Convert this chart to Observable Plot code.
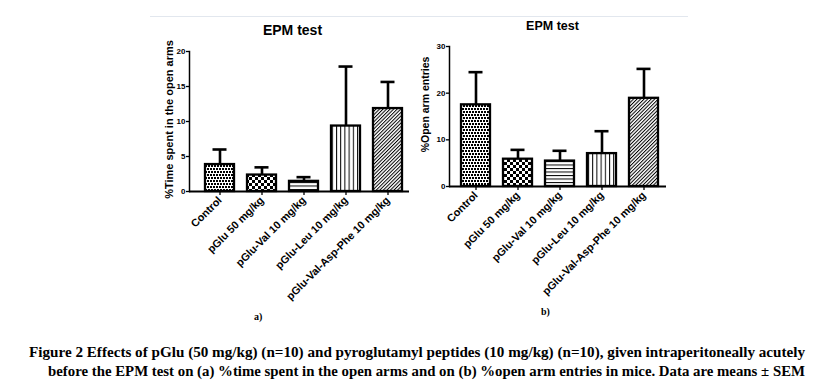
<!DOCTYPE html>
<html><head><meta charset="utf-8">
<script src="https://cdn.jsdelivr.net/npm/d3@7"></script>
<script src="https://cdn.jsdelivr.net/npm/@observablehq/plot@0.6"></script>
<style>
body{margin:0;background:#fff;}
#wrap{position:relative;width:827px;height:391px;overflow:hidden;background:#fff;}
.layer{position:absolute;left:0;top:0;}
#topline{position:absolute;left:150px;top:16px;width:538px;height:1px;background:#e2e7ee;}
.sub{position:absolute;font-family:"Liberation Serif","Times New Roman",serif;font-weight:bold;font-size:10px;color:#000;}
</style></head>
<body>
<svg width="0" height="0" style="position:absolute">
  <defs>
    <pattern id="p0" patternUnits="userSpaceOnUse" width="3" height="6">
      <rect width="3" height="6" fill="#fff"/>
      <rect x="0" y="0" width="2" height="2" fill="#000"/>
      <rect x="1" y="3" width="2" height="2" fill="#000"/>
    </pattern>
    <pattern id="p1" patternUnits="userSpaceOnUse" width="6" height="6">
      <rect width="6" height="6" fill="#fff"/><rect x="0" y="0" width="3" height="3" fill="#000"/><rect x="3" y="3" width="3" height="3" fill="#000"/>
    </pattern>
    <pattern id="p2" patternUnits="userSpaceOnUse" width="4" height="3.5">
      <rect width="4" height="3.5" fill="#fff"/><rect x="0" y="0" width="4" height="1" fill="#000"/>
    </pattern>
    <pattern id="p3" patternUnits="userSpaceOnUse" width="4.2" height="4">
      <rect width="4.2" height="4" fill="#fff"/><rect x="0" y="0" width="1" height="4" fill="#000"/>
    </pattern>
    <pattern id="p4" patternUnits="userSpaceOnUse" width="2.5" height="2.5" patternTransform="rotate(45)">
      <rect width="2.5" height="2.5" fill="#fff"/><rect x="0" y="0" width="1" height="2.5" fill="#000"/>
    </pattern>
  </defs>
</svg>
<div id="wrap">
  <div id="topline"></div>
  <div id="pa" class="layer"></div>
  <div id="pb" class="layer"></div>
  <div class="sub" style="left:254px;top:311px;">a)</div>
  <div class="sub" style="left:541px;top:306px;">b)</div>
  <svg class="layer" width="827" height="391" style="pointer-events:none">
    <g font-family="Liberation Serif, Times New Roman, serif" font-weight="bold" font-size="15" fill="#000">
      <text id="cap1" x="29" y="357" textLength="776" lengthAdjust="spacingAndGlyphs"></text>
      <text id="cap2" x="48" y="376" textLength="757" lengthAdjust="spacingAndGlyphs"></text>
    </g>
  </svg>
</div>
<script>
// ---- data ----
const groups = ["Control", "pGlu 50 mg/kg", "pGlu-Val 10 mg/kg", "pGlu-Leu 10 mg/kg", "pGlu-Val-Asp-Phe 10 mg/kg"];
const timeMean = [3.85, 2.35, 1.45, 9.35, 11.85];
const timeSem = [2.15, 1.1, 0.6, 8.5, 3.8];
const entriesMean = [17.5, 5.85, 5.45, 7.05, 18.9];
const entriesSem = [7.0, 2.0, 2.2, 4.8, 6.3];
const yTicksA = [0, 5, 10, 15, 20];
const yTicksB = [0, 10, 20, 30];
const titleA = "EPM test";
const titleB = "EPM test";
const yLabelA = "%Time spent in the open arms";
const yLabelB = "%Open arm entries";
const caption1 = "Figure 2 Effects of pGlu (50 mg/kg) (n=10) and pyroglutamyl peptides (10 mg/kg) (n=10), given intraperitoneally acutely";
const caption2 = "before the EPM test on (a) %time spent in the open arms and on (b) %open arm entries in mice. Data are means \u00b1 SEM";

const patterns = ["url(#p0)", "url(#p1)", "url(#p2)", "url(#p3)", "url(#p4)"];
const font = "Liberation Sans, Arial, sans-serif";

function panel(o) {
  const data = groups.map((g, i) => ({group: g, mean: o.mean[i], top: o.mean[i] + o.sem[i]}));
  return Plot.plot({
    width: 827, height: 391,
    marginLeft: o.ml, marginRight: o.mr, marginTop: o.mt, marginBottom: o.mb,
    style: {background: "transparent", fontFamily: font, overflow: "visible", color: "#000"},
    x: {domain: groups, paddingInner: 0.3, paddingOuter: o.po, align: o.align, label: null},
    y: {domain: o.domain, label: null},
    color: {domain: groups, range: patterns},
    marks: [
      Plot.ruleX(data, {x: "group", y1: "mean", y2: "top", stroke: "#000", strokeWidth: 2.6}),
      Plot.tickY(data, {x: "group", y: "top", stroke: "#000", strokeWidth: 2.6, insetLeft: 7.5, insetRight: 7.5}),
      Plot.barY(data, {x: "group", y: "mean", fill: "group", stroke: "#000", strokeWidth: 2.3}),
      Plot.ruleY([0], {stroke: "#000", strokeWidth: 2}),
      Plot.frame({anchor: "left", stroke: "#000", strokeWidth: 1.5}),
      Plot.axisY({ticks: o.yTicks, tickSize: 3, tickPadding: 1, strokeWidth: 1.3, fontWeight: "bold", fontSize: o.yTickFs, label: null}),
      Plot.axisX({tickSize: 4, tickPadding: 3, tickRotate: -45, strokeWidth: 1.3, fontWeight: "bold", fontSize: 10.8, label: null}),
      Plot.text([o.title], {frameAnchor: "top", lineAnchor: "middle", dx: o.tdx, dy: o.tdy, fontWeight: "bold", fontSize: o.tfs, fill: "#000"}),
      Plot.text([o.ylabel], {frameAnchor: "left", rotate: -90, lineAnchor: "middle", textAnchor: "middle", dx: o.ldx, dy: o.ldy, fontWeight: "bold", fontSize: o.lfs, fill: "#000"})
    ]
  });
}

document.getElementById("pa").appendChild(panel({
  mean: timeMean, sem: timeSem, domain: [0, 20], yTicks: yTicksA,
  ml: 189, mr: 418, mt: 51, mb: 200, po: 0.24, align: 0.7,
  title: titleA, tdx: -7, tdy: -21, tfs: 14,
  ylabel: yLabelA, ldx: -20, ldy: -2, lfs: 11, yTickFs: 8
}));
document.getElementById("pb").appendChild(panel({
  mean: entriesMean, sem: entriesSem, domain: [0, 30], yTicks: yTicksB,
  ml: 449, mr: 161, mt: 46, mb: 205, po: 0.215, align: 0.6,
  title: titleB, tdx: -5.5, tdy: -21, tfs: 12.5,
  ylabel: yLabelB, ldx: -24, ldy: -12, lfs: 10.5, yTickFs: 8
}));
document.getElementById("cap1").textContent = caption1;
document.getElementById("cap2").textContent = caption2;
</script>
</body></html>
